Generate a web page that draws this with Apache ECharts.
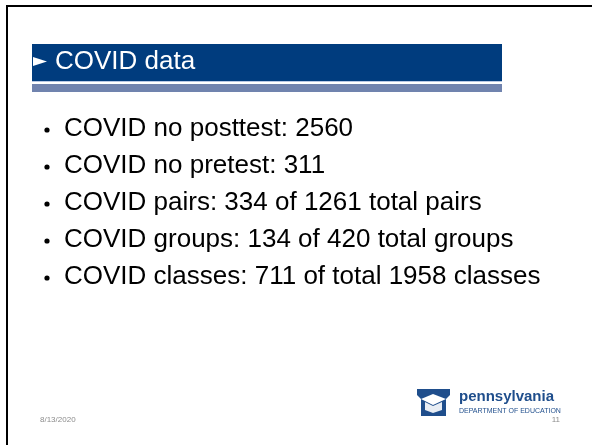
<!DOCTYPE html>
<html>
<head>
<meta charset="utf-8">
<script src="https://cdn.jsdelivr.net/npm/echarts@6/dist/echarts.min.js"></script>
<style>
  html, body { margin: 0; padding: 0; background: #fff; }
  #main { width: 592px; height: 445px; }
</style>
</head>
<body>
<div id="main"></div>
<script>
// slide content
const slideTitle = 'COVID data'
const bulletLines = [
  'COVID no posttest: 2560',
  'COVID no pretest: 311',
  'COVID pairs: 334 of 1261 total pairs',
  'COVID groups: 134 of 420 total groups',
  'COVID classes: 711 of total 1958 classes'
]
const footerDate = '8/13/2020'
const pageNumber = '11'

const chart = echarts.init(document.getElementById('main'))

const font = 'Liberation Sans, Arial, sans-serif'
const navy = '#003c7e'

// bullet list -> graphic texts
const bulletItems = []
bulletLines.forEach(function (line, i) {
  const y = 129 + i * 37
  bulletItems.push({
    type: 'circle',
    shape: { cx: 47, cy: y + 1, r: 2.6 },
    style: { fill: '#000' }
  })
  bulletItems.push({
    type: 'text',
    x: 64, y: y,
    style: {
      text: line,
      font: '26px ' + font,
      fill: '#000',
      textVerticalAlign: 'middle'
    }
  })
})

const option = {
  backgroundColor: '#fff',
  graphic: [
    // slide border (top / left)
    { type: 'rect', shape: { x: 6, y: 5, width: 586, height: 2 }, style: { fill: '#000' } },
    { type: 'rect', shape: { x: 6, y: 5, width: 2, height: 440 }, style: { fill: '#000' } },
    // title bar
    { type: 'rect', shape: { x: 32, y: 44, width: 470, height: 37 }, style: { fill: navy } },
    { type: 'rect', shape: { x: 32, y: 81, width: 470, height: 1 }, style: { fill: '#b8c8e4' } },
    { type: 'rect', shape: { x: 32, y: 84, width: 470, height: 8 }, style: { fill: '#7083ae' } },
    { type: 'polygon', shape: { points: [[33, 57], [47, 61.5], [33, 66]] }, style: { fill: '#fff' } },
    {
      type: 'text', x: 55, y: 62,
      style: { text: slideTitle, font: '26px ' + font, fill: '#fff', textVerticalAlign: 'middle' }
    },
    ...bulletItems,
    // footer
    {
      type: 'text', x: 40, y: 420,
      style: { text: footerDate, font: '8px ' + font, fill: '#8c8c8c', textVerticalAlign: 'middle' }
    },
    {
      type: 'text', x: 560, y: 420,
      style: { text: pageNumber, font: '8px ' + font, fill: '#8c8c8c', textAlign: 'right', textVerticalAlign: 'middle' }
    },
    // keystone logo
    {
      type: 'polygon',
      shape: { points: [[417, 389], [450, 389], [450, 395], [446, 399], [446, 416], [421, 416], [421, 399], [417, 395]] },
      style: { fill: '#1f4e8c' }
    },
    {
      type: 'polygon',
      shape: { points: [[421, 399], [433, 394], [446, 399], [433, 405]] },
      style: { fill: '#fff' }
    },
    {
      type: 'polygon',
      shape: { points: [[425, 402], [433, 406], [442, 402], [442, 410], [433, 413], [425, 410]] },
      style: { fill: '#e8edf4' }
    },
    {
      type: 'text', x: 459, y: 397,
      style: { text: 'pennsylvania', font: 'bold 15px ' + font, fill: '#1f4e8c', textVerticalAlign: 'middle' }
    },
    {
      type: 'text', x: 459, y: 411,
      style: { text: 'DEPARTMENT OF EDUCATION', font: '7px ' + font, fill: '#1f4e8c', textVerticalAlign: 'middle' }
    }
  ]
}

chart.setOption(option)
</script>
</body>
</html>
